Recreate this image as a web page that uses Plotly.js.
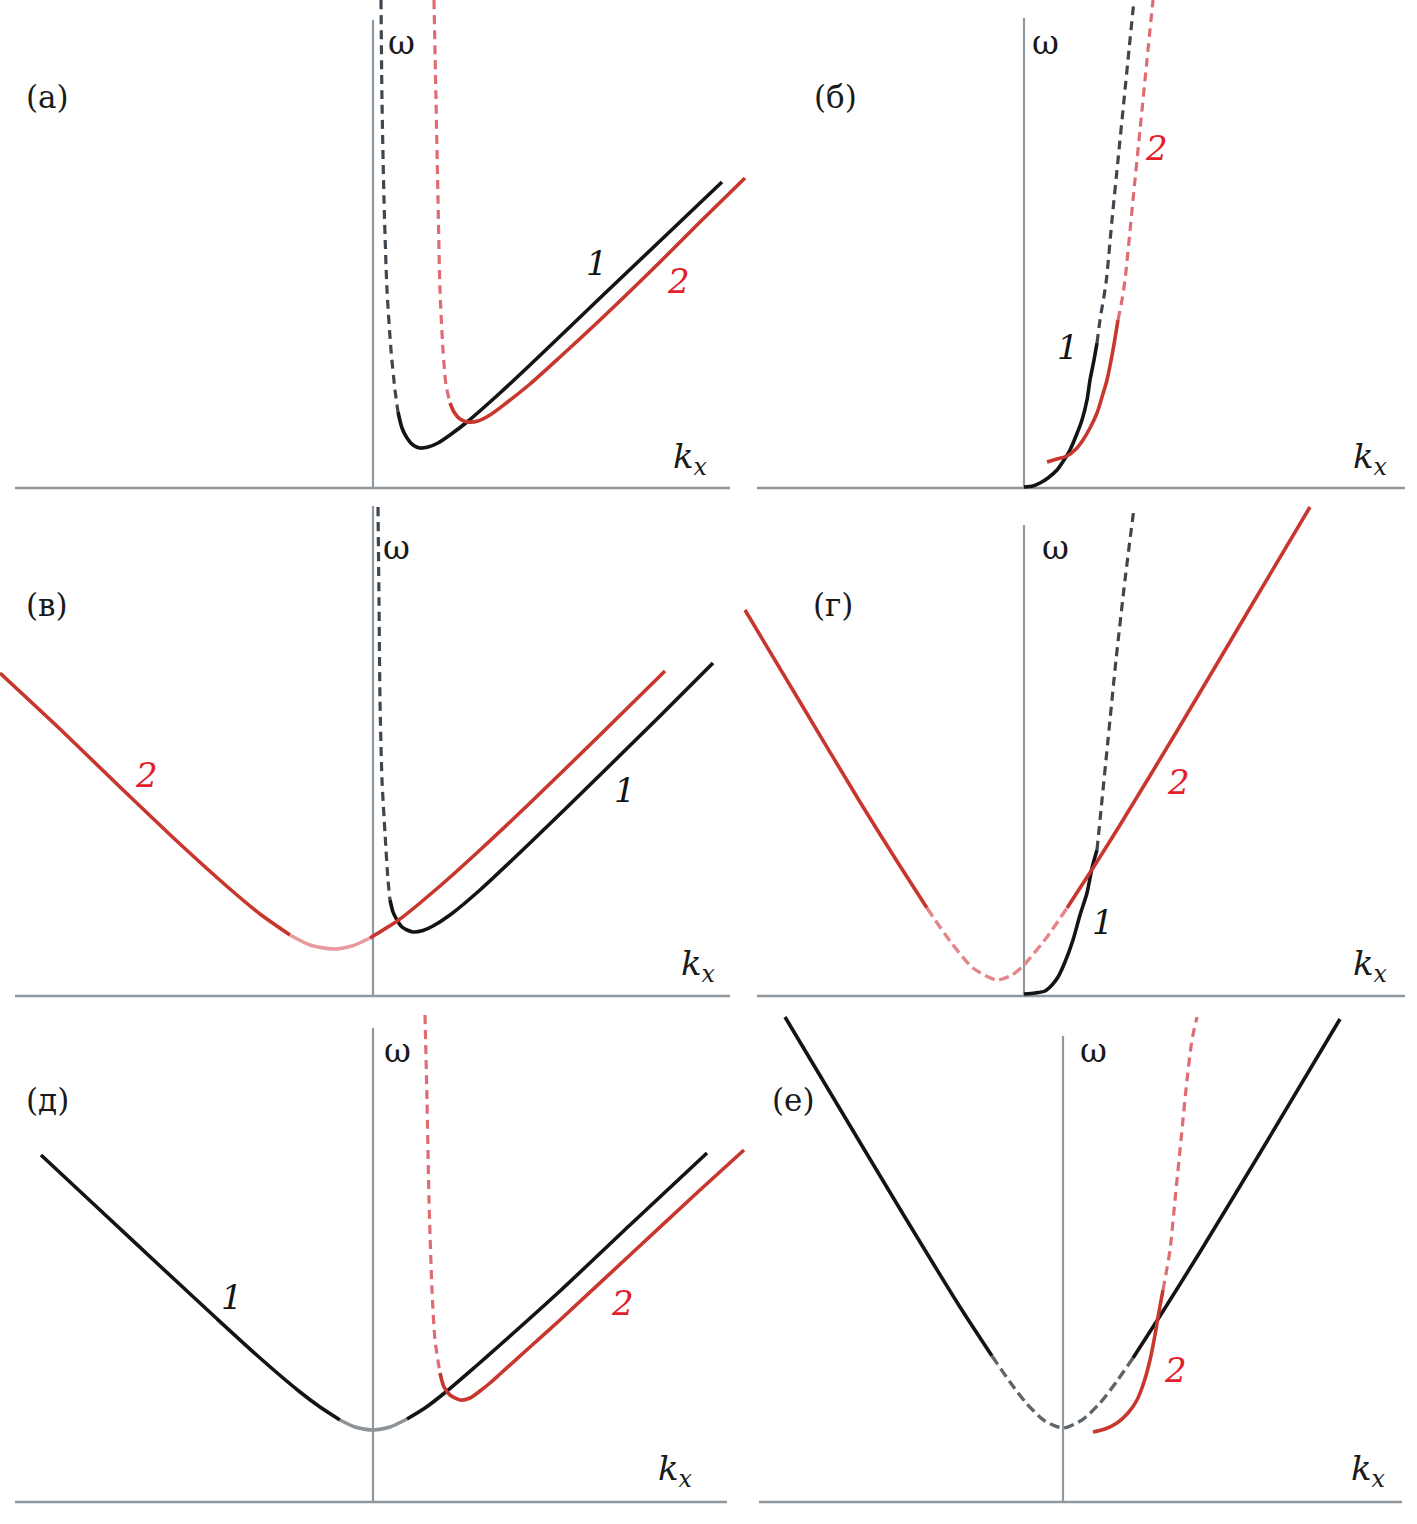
<!DOCTYPE html>
<html>
<head>
<meta charset="utf-8">
<script src="https://cdn.plot.ly/plotly-3.0.1.min.js"></script>
<style>html,body{margin:0;padding:0;background:#fff;}#chart{width:1417px;height:1524px;}</style>
</head>
<body>
<div id="chart"></div>
<script>
// ---------------- DATA (kx, ω in arbitrary units) ----------------
// Panel (а)
const a_1_dash_k = [0.08,0.09,0.11,0.14,0.18,0.22,0.25];
const a_1_dash_w = [4.88,3.88,2.88,1.98,1.38,0.98,0.76];
const a_1_sol_k = [0.25,0.29,0.34,0.40,0.47,0.55,0.65,0.77,0.94,1.27,1.57,2.27,2.87,3.49];
const a_1_sol_w = [0.76,0.60,0.50,0.43,0.40,0.41,0.45,0.53,0.66,0.95,1.23,1.90,2.47,3.06];
const a_2_dash_k = [0.61,0.63,0.65,0.67,0.70,0.73,0.77];
const a_2_dash_w = [4.88,3.88,2.88,1.98,1.38,1.03,0.85];
const a_2_sol_k = [0.77,0.81,0.87,0.95,1.05,1.17,1.32,1.57,1.87,2.27,2.87,3.27,3.72];
const a_2_sol_w = [0.85,0.76,0.69,0.66,0.67,0.73,0.84,1.04,1.31,1.68,2.26,2.66,3.10];

// Panel (б)
const b_1_sol_k = [0,0.09,0.16,0.24,0.33,0.40,0.46,0.52,0.58,0.63,0.66,0.70,0.73];
const b_1_sol_w = [0.01,0.02,0.05,0.10,0.18,0.28,0.38,0.52,0.68,0.88,1.08,1.28,1.45];
const b_1_dash_k = [0.73,0.76,0.82,0.88,0.94,1.00,1.05,1.10];
const b_1_dash_w = [1.45,1.68,2.05,2.68,3.28,3.88,4.38,4.88];
const b_2_sol_k = [0.23,0.33,0.43,0.52,0.59,0.66,0.73,0.78,0.83,0.89,0.94];
const b_2_sol_w = [0.26,0.29,0.32,0.39,0.48,0.60,0.75,0.91,1.08,1.38,1.68];
const b_2_dash_k = [0.94,0.98,1.01,1.09,1.16,1.23,1.29];
const b_2_dash_w = [1.68,1.88,2.08,2.88,3.58,4.28,4.88];

// Panel (в)
const v_2_left_k = [-3.73,-3.13,-2.53,-1.93,-1.43,-1.13,-0.83];
const v_2_left_w = [3.23,2.67,2.09,1.52,1.07,0.82,0.61];
const v_2_fade_k = [-0.83,-0.63,-0.40,-0.21,-0.03];
const v_2_fade_w = [0.61,0.51,0.47,0.50,0.58];
const v_2_right_k = [-0.03,0.27,0.67,1.07,1.57,2.27,2.92];
const v_2_right_w = [0.58,0.77,1.10,1.46,1.93,2.61,3.25];
const v_1_dash_k = [0.05,0.06,0.07,0.09,0.12,0.15,0.17];
const v_1_dash_w = [4.89,3.96,2.96,2.16,1.63,1.16,0.96];
const v_1_sol_k = [0.17,0.20,0.24,0.29,0.34,0.40,0.50,0.60,0.77,1.07,1.57,2.27,2.87,3.40];
const v_1_sol_w = [0.96,0.84,0.76,0.69,0.66,0.64,0.655,0.70,0.81,1.06,1.53,2.21,2.80,3.33];

// Panel (г)
const g_2_left_k = [-2.79,-2.24,-1.64,-1.24,-0.97];
const g_2_left_w = [3.86,2.94,1.94,1.30,0.88];
const g_2_fade_k = [-0.97,-0.74,-0.51,-0.27,-0.12,-0.01,0.23,0.43];
const g_2_fade_w = [0.88,0.55,0.28,0.16,0.21,0.30,0.59,0.88];
const g_2_right_k = [0.43,0.69,0.96,1.56,2.26,2.86];
const g_2_right_w = [0.88,1.28,1.71,2.70,3.88,4.89];
const g_1_sol_k = [0,0.11,0.21,0.28,0.34,0.41,0.49,0.56,0.63,0.68,0.73];
const g_1_sol_w = [0.02,0.03,0.05,0.11,0.19,0.34,0.56,0.81,1.03,1.28,1.46];
const g_1_dash_k = [0.73,0.77,0.84,0.92,1.01,1.10];
const g_1_dash_w = [1.46,1.86,2.56,3.36,4.16,4.88];

// Panel (д)
const d_1_left_k = [-3.32,-2.73,-2.13,-1.58,-1.13,-0.73,-0.53,-0.33];
const d_1_left_w = [3.47,2.92,2.36,1.85,1.44,1.10,0.95,0.82];
const d_1_fade_k = [-0.33,-0.18,0,0.17,0.34];
const d_1_fade_w = [0.82,0.75,0.72,0.75,0.83];
const d_1_right_k = [0.34,0.52,0.74,1.02,1.27,1.87,2.57,3.34];
const d_1_right_w = [0.83,0.94,1.11,1.35,1.57,2.11,2.77,3.49];
const d_2_dash_k = [0.52,0.54,0.56,0.59,0.62,0.67];
const d_2_dash_w = [4.87,4.02,3.02,2.12,1.62,1.29];
const d_2_sol_k = [0.67,0.71,0.77,0.87,0.97,1.07,1.17,1.27,1.57,1.87,2.57,3.27,3.71];
const d_2_sol_w = [1.29,1.15,1.07,1.02,1.04,1.11,1.19,1.28,1.55,1.82,2.47,3.12,3.52];

// Panel (е)
const e_1_left_k = [-2.78,-2.23,-1.63,-1.03,-0.71];
const e_1_left_w = [4.85,3.93,2.93,1.95,1.46];
const e_1_fade_k = [-0.71,-0.53,-0.36,-0.18,0,0.19,0.37,0.54,0.70];
const e_1_fade_w = [1.46,1.20,0.98,0.81,0.74,0.82,0.99,1.21,1.44];
const e_1_right_k = [0.70,0.97,1.37,1.97,2.77];
const e_1_right_w = [1.44,1.86,2.50,3.49,4.83];
const e_2_sol_k = [0.30,0.42,0.54,0.65,0.74,0.81,0.87,0.92,0.95,1.00];
const e_2_sol_w = [0.70,0.73,0.79,0.89,1.02,1.20,1.42,1.67,1.85,2.12];
const e_2_dash_k = [1.00,1.07,1.12,1.18,1.24,1.29,1.34];
const e_2_dash_w = [2.12,2.52,3.02,3.62,4.22,4.62,4.85];

// Labels
const panelLetters = ['(а)','(б)','(в)','(г)','(д)','(е)'];
const omegaLabel = 'ω';
const kxLabel = 'k<sub>x</sub>';

// ---------------- LAYOUT GEOMETRY ----------------
const W = 1417, H = 1524, S = 100; // S: pixels per unit
const panels = [
  {o:[373,488],  r:[0,752,0,500],      ax:[-3.58,3.57,4.68], letter:[-3.26,3.91], om:[0.28,4.46], kx:[3.17,0.30]},
  {o:[1024,488], r:[740,1417,0,500],   ax:[-2.67,3.81,4.70], letter:[-1.89,3.91], om:[0.21,4.46], kx:[3.46,0.30]},
  {o:[373,996],  r:[0,752,500,1010],   ax:[-3.58,3.57,4.90], letter:[-3.26,3.91], om:[0.23,4.49], kx:[3.25,0.31]},
  {o:[1024,996], r:[740,1417,500,1010],ax:[-2.67,3.81,4.71], letter:[-1.91,3.91], om:[0.31,4.49], kx:[3.46,0.31]},
  {o:[373,1502], r:[0,752,1010,1524],  ax:[-3.58,3.54,4.74], letter:[-3.26,4.02], om:[0.24,4.52], kx:[3.02,0.32]},
  {o:[1063,1502],r:[740,1417,1010,1524],ax:[-3.04,3.39,4.66], letter:[-2.70,4.02], om:[0.30,4.52], kx:[3.05,0.32]}
];

const BLACK='#141414', RED='#c8372d', LABELRED='#e3202a', AXIS='#8f989e';
const st = {
  solidBlack:{color:BLACK,width:3.6},
  solidRed:{color:RED,width:3.6},
  dashBlack:{color:'#3f464d',width:3.2,dash:'9px,6px'},
  dashRed:{color:'#de6d73',width:3.2,dash:'9px,6px'},
  fadeRed:{color:'#e99aa0',width:3.6},
  fadeRedDash:{color:'#e4868c',width:3.4,dash:'10px,5px'},
  fadeBlack:{color:'#8e9398',width:3.6},
  fadeBlackDash:{color:'#5e656b',width:3.4,dash:'10px,5px'}
};

const traces = [];
function seg(p, k, w, style){
  const n = p===0 ? '' : String(p+1);
  traces.push({type:'scatter', mode:'lines', x:k, y:w, xaxis:'x'+n, yaxis:'y'+n,
    line:Object.assign({shape:'spline', smoothing:0.7}, style), hoverinfo:'skip', showlegend:false});
}
seg(0,a_1_dash_k,a_1_dash_w,st.dashBlack); seg(0,a_1_sol_k,a_1_sol_w,st.solidBlack);
seg(0,a_2_dash_k,a_2_dash_w,st.dashRed);   seg(0,a_2_sol_k,a_2_sol_w,st.solidRed);
seg(1,b_1_sol_k,b_1_sol_w,st.solidBlack); seg(1,b_1_dash_k,b_1_dash_w,st.dashBlack);
seg(1,b_2_sol_k,b_2_sol_w,st.solidRed);   seg(1,b_2_dash_k,b_2_dash_w,st.dashRed);
seg(2,v_1_dash_k,v_1_dash_w,st.dashBlack); seg(2,v_1_sol_k,v_1_sol_w,st.solidBlack);
seg(2,v_2_left_k,v_2_left_w,st.solidRed); seg(2,v_2_fade_k,v_2_fade_w,st.fadeRed); seg(2,v_2_right_k,v_2_right_w,st.solidRed);
seg(3,g_1_sol_k,g_1_sol_w,st.solidBlack); seg(3,g_1_dash_k,g_1_dash_w,st.dashBlack);
seg(3,g_2_left_k,g_2_left_w,st.solidRed); seg(3,g_2_fade_k,g_2_fade_w,st.fadeRedDash); seg(3,g_2_right_k,g_2_right_w,st.solidRed);
seg(4,d_1_left_k,d_1_left_w,st.solidBlack); seg(4,d_1_fade_k,d_1_fade_w,st.fadeBlack); seg(4,d_1_right_k,d_1_right_w,st.solidBlack);
seg(4,d_2_dash_k,d_2_dash_w,st.dashRed); seg(4,d_2_sol_k,d_2_sol_w,st.solidRed);
seg(5,e_1_left_k,e_1_left_w,st.solidBlack); seg(5,e_1_fade_k,e_1_fade_w,st.fadeBlackDash); seg(5,e_1_right_k,e_1_right_w,st.solidBlack);
seg(5,e_2_sol_k,e_2_sol_w,st.solidRed); seg(5,e_2_dash_k,e_2_dash_w,st.dashRed);

const curveLabels = [
  [0,'1',2.24,2.25,BLACK],[0,'2',3.05,2.07,LABELRED],
  [1,'1',0.44,1.41,BLACK],[1,'2',1.32,3.40,LABELRED],
  [2,'2',-2.27,2.21,LABELRED],[2,'1',2.52,2.06,BLACK],
  [3,'2',1.54,2.14,LABELRED],[3,'1',0.79,0.74,BLACK],
  [4,'1',-1.41,2.05,BLACK],[4,'2',2.49,1.99,LABELRED],
  [5,'2',1.12,1.32,LABELRED]
];

const FONT = 'DejaVu Serif';
const layout = {
  width:W, height:H, margin:{l:0,r:0,t:0,b:0}, paper_bgcolor:'#fff', plot_bgcolor:'rgba(0,0,0,0)',
  showlegend:false, shapes:[], annotations:[], font:{family:FONT, size:32, color:'#1a1a1a'}
};
panels.forEach((p,i)=>{
  const n = i===0 ? '' : String(i+1);
  const [x1,x2,y1,y2] = p.r, [ox,oy] = p.o;
  layout['xaxis'+n] = {domain:[x1/W, x2/W], range:[(x1-ox)/S,(x2-ox)/S], visible:false, fixedrange:true, anchor:'y'+n};
  layout['yaxis'+n] = {domain:[1-y2/H, 1-y1/H], range:[(oy-y2)/S,(oy-y1)/S], visible:false, fixedrange:true, anchor:'x'+n};
  const xr='x'+n, yr='y'+n;
  layout.shapes.push({type:'line', xref:xr, yref:yr, x0:p.ax[0], x1:p.ax[1], y0:0, y1:0, line:{color:AXIS,width:2.6}, layer:'below'});
  layout.shapes.push({type:'line', xref:xr, yref:yr, x0:0, x1:0, y0:0, y1:p.ax[2], line:{color:AXIS,width:2.2}, layer:'below'});
  layout.annotations.push({xref:xr, yref:yr, x:p.letter[0], y:p.letter[1], text:panelLetters[i], showarrow:false, xanchor:'center', yanchor:'middle', font:{family:FONT,size:31,color:'#1a1a1a'}});
  layout.annotations.push({xref:xr, yref:yr, x:p.om[0], y:p.om[1], text:omegaLabel, showarrow:false, xanchor:'center', yanchor:'middle', font:{family:FONT,size:33,color:'#1a1a1a'}});
  layout.annotations.push({xref:xr, yref:yr, x:p.kx[0], y:p.kx[1], text:kxLabel, showarrow:false, xanchor:'center', yanchor:'middle', font:{family:FONT,size:34,style:'italic',color:'#1a1a1a'}});
});
curveLabels.forEach(c=>{
  const n = c[0]===0 ? '' : String(c[0]+1);
  layout.annotations.push({xref:'x'+n, yref:'y'+n, x:c[2], y:c[3], text:c[1], showarrow:false, xanchor:'center', yanchor:'middle', font:{family:FONT,size:34,style:'italic',color:c[4]}});
});

Plotly.newPlot('chart', traces, layout, {staticPlot:true, displayModeBar:false});
</script>
</body>
</html>
